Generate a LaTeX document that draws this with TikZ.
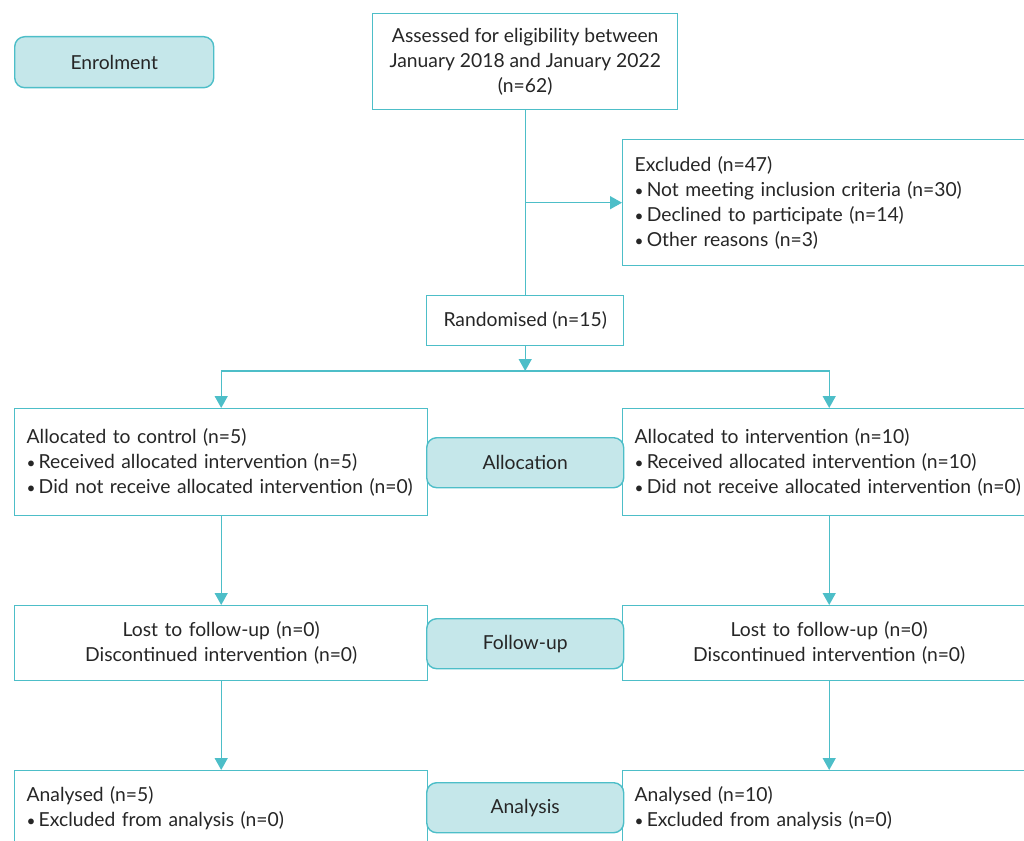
\documentclass[tikz,border=0pt]{standalone}
\usepackage{fontspec}
\setmainfont{Lato}
\usetikzlibrary{arrows.meta}

\definecolor{flowline}{RGB}{77,190,200}
\definecolor{flowfill}{RGB}{197,231,234}
\definecolor{flowtext}{RGB}{38,38,38}

\newcommand{\bul}{\scalebox{0.8}{\textbullet}\hspace{0.16em}}

\tikzset{
  flow/.style={x=1pt,y=-1pt,line width=1.4pt,draw=flowline,text=flowtext,
    font=\fontsize{19.3}{25}\selectfont},
  box/.style={draw=flowline,fill=white,anchor=north west,inner xsep=12pt,inner ysep=0pt},
  leftbox/.style={box,minimum width=413pt,text width=389pt,align=left},
  midbox/.style={box,minimum width=413pt,text width=389pt,align=center},
  stage/.style={draw=flowline,fill=flowfill,rounded corners=10pt,anchor=north west,
    minimum width=197pt,minimum height=50pt,inner sep=0pt},
  conn/.style={draw=flowline,line width=1.4pt},
  arr/.style={conn,-{Triangle[width=13pt,length=12pt]}}
}

\begin{document}
\begin{tikzpicture}[flow]
\useasboundingbox (0,0) rectangle (1024,840);
\clip (0,0) rectangle (1024,840);

% Enrolment
\node[stage,minimum width=199pt,minimum height=51pt] (enrol) at (14,36) {Enrolment};
\node[box,minimum width=305pt,minimum height=96pt,align=center] (assess) at (372,13)
  {Assessed for eligibility between\\January 2018 and January 2022\\(n=62)};
\node[leftbox,minimum height=126pt] (excl) at (622,139)
  {Excluded (n=47)\\\bul Not meeting inclusion criteria (n=30)\\\bul Declined to participate (n=14)\\\bul Other reasons (n=3)};
\node[box,minimum width=197pt,minimum height=50pt,inner xsep=0pt] (rand) at (426,295) {Randomised (n=15)};

% Allocation
\node[leftbox,minimum height=107pt] (ctrl) at (14,408)
  {Allocated to control (n=5)\\\bul Received allocated intervention (n=5)\\\mbox{\bul Did not receive allocated intervention (n=0)}};
\node[leftbox,minimum height=107pt] (intv) at (622,408)
  {Allocated to intervention (n=10)\\\bul Received allocated intervention (n=10)\\\mbox{\bul Did not receive allocated intervention (n=0)}};
\node[stage] (alloc) at (426,437) {Allocation};

% Follow-up
\node[midbox,minimum height=75pt] (ctrlfu) at (14,605)
  {Lost to follow-up (n=0)\\Discontinued intervention (n=0)};
\node[midbox,minimum height=75pt] (intvfu) at (622,605)
  {Lost to follow-up (n=0)\\Discontinued intervention (n=0)};
\node[stage] (follow) at (426,618) {Follow-up};

% Analysis
\node[leftbox,minimum height=75pt] (ctrlan) at (14,770)
  {Analysed (n=5)\\\bul Excluded from analysis (n=0)};
\node[leftbox,minimum height=75pt] (intvan) at (622,770)
  {Analysed (n=10)\\\bul Excluded from analysis (n=0)};
\node[stage] (analysis) at (426,782) {Analysis};

% Connectors
\draw[conn] (assess) -- (rand);
\draw[arr] (assess.south |- excl.west) -- (excl.west);
\coordinate (split) at (rand.south |- 0,371);
\draw[arr] (rand) -- (split);
\draw[arr] (split) -| (ctrl.north);
\draw[arr] (split) -| (intv.north);
\draw[arr] (ctrl) -- (ctrlfu);
\draw[arr] (intv) -- (intvfu);
\draw[arr] (ctrlfu) -- (ctrlan);
\draw[arr] (intvfu) -- (intvan);

\end{tikzpicture}
\end{document}
